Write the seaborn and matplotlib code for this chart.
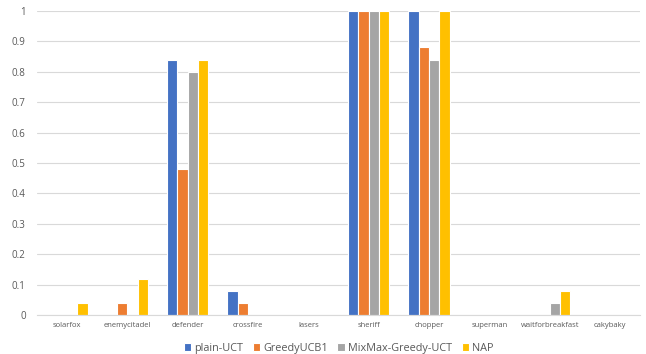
import matplotlib
matplotlib.use("Agg")
import matplotlib.pyplot as plt
import seaborn as sns
import pandas as pd

games = ["solarfox", "enemycitadel", "defender", "crossfire", "lasers",
         "sheriff", "chopper", "superman", "waitforbreakfast", "cakybaky"]
plain_uct = [0, 0, 0.84, 0.08, 0, 1.0, 1.0, 0, 0, 0]
greedy_ucb1 = [0, 0.04, 0.48, 0.04, 0, 1.0, 0.88, 0, 0, 0]
mixmax_greedy_uct = [0, 0, 0.80, 0, 0, 1.0, 0.84, 0, 0.04, 0]
nap = [0.04, 0.12, 0.84, 0, 0, 1.0, 1.0, 0, 0.08, 0]
methods = ["plain-UCT", "GreedyUCB1", "MixMax-Greedy-UCT", "NAP"]
colors = ["#4472C4", "#ED7D31", "#A5A5A5", "#FFC000"]
y_ticks = [0, 0.1, 0.2, 0.3, 0.4, 0.5, 0.6, 0.7, 0.8, 0.9, 1]

rows = []
for m, vals in zip(methods, [plain_uct, greedy_ucb1, mixmax_greedy_uct, nap]):
    for g, v in zip(games, vals):
        rows.append({"game": g, "method": m, "score": v})
df = pd.DataFrame(rows)

sns.set_theme(style="white")
plt.rcParams["font.family"] = ["Open Sans", "DejaVu Sans"]

fig = plt.figure(figsize=(6.46, 3.54), dpi=100)
ax = fig.add_axes([0.057, 0.110, 0.934, 0.859])

sns.barplot(data=df, x="game", y="score", hue="method", order=games,
            hue_order=methods, palette=colors, width=0.68, ax=ax,
            edgecolor="white", linewidth=0.8, errorbar=None, saturation=1)

ax.set_ylim(0, 1)
ax.set_xlim(-0.5, len(games) - 0.5)
ax.set_yticks(y_ticks)
ax.set_yticklabels([f"{t:g}" for t in y_ticks])
ax.yaxis.grid(True, color="#D9D9D9", linewidth=0.8)
ax.set_axisbelow(True)
for s in ["top", "right", "left"]:
    ax.spines[s].set_visible(False)
ax.spines["bottom"].set_color("#D9D9D9")
ax.spines["bottom"].set_linewidth(0.8)
ax.tick_params(axis="y", length=0, labelsize=7, colors="#595959", pad=8)
ax.tick_params(axis="x", length=0, labelsize=5.5, colors="#595959", pad=5)
ax.set_xlabel("")
ax.set_ylabel("")

handles, labels = ax.get_legend_handles_labels()
ax.legend(handles, labels, loc="lower center", bbox_to_anchor=(0.5, -0.16),
          ncol=4, frameon=False, fontsize=7.8, handlelength=0.7,
          handleheight=0.8, handletextpad=0.25, columnspacing=0.9,
          labelcolor="#595959")

fig.savefig("out.png", dpi=100)
